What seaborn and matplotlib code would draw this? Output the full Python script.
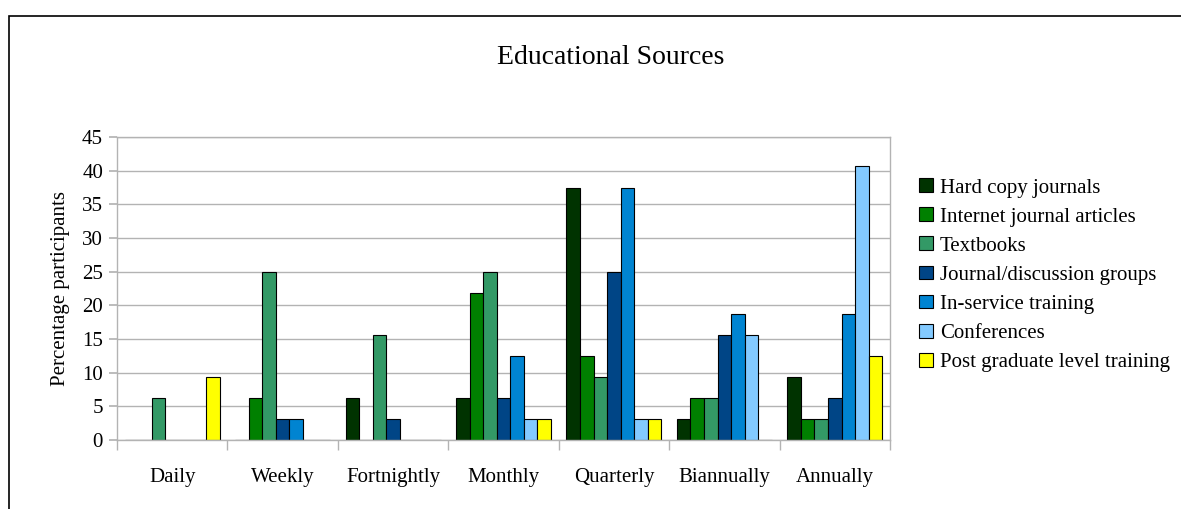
import matplotlib
matplotlib.use("Agg")
import matplotlib.pyplot as plt
import numpy as np
import pandas as pd
import seaborn as sns
from matplotlib.patches import Rectangle

# frequency categories on the x axis
periods = ["Daily", "Weekly", "Fortnightly", "Monthly", "Quarterly", "Biannually", "Annually"]

sources = [
    "Hard copy journals",
    "Internet journal articles",
    "Textbooks",
    "Journal/discussion groups",
    "In-service training",
    "Conferences",
    "Post graduate level training",
]

# percentage of participants, one list per source (order follows periods)
hard_copy = [0, 0, 6.25, 6.25, 37.5, 3.125, 9.375]
internet = [0, 6.25, 0, 21.875, 12.5, 6.25, 3.125]
textbooks = [6.25, 25, 15.625, 25, 9.375, 6.25, 3.125]
journal_groups = [0, 3.125, 3.125, 6.25, 25, 15.625, 6.25]
in_service = [0, 3.125, 0, 12.5, 37.5, 18.75, 18.75]
conferences = [0, 0, 0, 3.125, 3.125, 15.625, 40.625]
postgrad = [9.375, 0, 0, 3.125, 3.125, 0, 12.5]

colors = ["#003300", "#008000", "#339966", "#004586", "#0084d1", "#83caff", "#ffff00"]

series = [hard_copy, internet, textbooks, journal_groups, in_service, conferences, postgrad]
df = pd.DataFrame(
    [(p, s, v) for s, vals in zip(sources, series) for p, v in zip(periods, vals)],
    columns=["period", "source", "pct"],
)

sns.set_theme(style="white")
plt.rcParams["font.family"] = ["Liberation Serif", "DejaVu Serif"]
plt.rcParams["text.color"] = "black"
plt.rcParams["xtick.color"] = "black"
plt.rcParams["ytick.color"] = "black"
plt.rcParams["axes.labelcolor"] = "black"

W, H = 1181, 509
fig = plt.figure(figsize=(W / 100, H / 100), dpi=100)
ax = fig.add_axes([117 / W, 1 - 440 / H, (890 - 117) / W, (440 - 137) / H])

sns.barplot(
    data=df, x="period", y="pct", hue="source", order=periods, hue_order=sources,
    palette=colors, saturation=1, edgecolor="black", linewidth=0.8, width=0.86, ax=ax,
    legend=True,
)

ax.set_xlim(-0.5, len(periods) - 0.5)
ax.set_ylim(0, 45)
ax.set_yticks(np.arange(0, 46, 5))
ax.yaxis.grid(True, color="#b3b3b3", linewidth=1)
ax.set_axisbelow(True)
for side in ["left", "right", "top", "bottom"]:
    ax.spines[side].set_color("#b3b3b3")
    ax.spines[side].set_linewidth(1)

ax.tick_params(axis="y", length=6, color="#b3b3b3", labelsize=15, pad=4, left=True)
ax.set_xticks(np.arange(len(periods) + 1) - 0.5, minor=True)
ax.tick_params(axis="x", which="minor", length=7, color="#b3b3b3", bottom=True)
ax.tick_params(axis="x", which="major", length=0, labelsize=15, pad=20)

ax.set_xlabel("")
ax.set_ylabel("Percentage participants", fontsize=15, labelpad=9)

handles, labels = ax.get_legend_handles_labels()
ax.get_legend().remove()
fig.legend(
    handles, labels, loc="upper left", bbox_to_anchor=(911 / W, 1 - 170 / H),
    frameon=False, fontsize=15, handlelength=0.65, handleheight=0.65,
    handletextpad=0.33, labelspacing=0.47, borderaxespad=0,
)

fig.text(611 / W, 1 - 58 / H, "Educational Sources", ha="center", va="center", fontsize=20)

# outer chart border (only top and left edges are inside the image)
fig.patches.append(Rectangle((9 / W, -0.2), 1.2, 1.2 - 16 / H, transform=fig.transFigure,
                             fill=False, edgecolor="black", linewidth=1.2, zorder=0))

fig.savefig("out.png", dpi=100)
